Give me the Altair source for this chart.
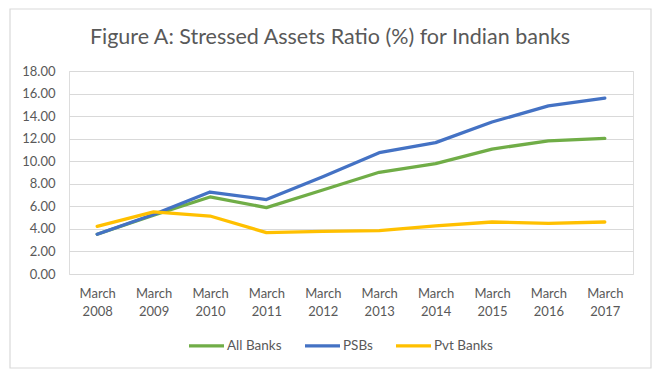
import altair as alt
import pandas as pd

years = ["March 2008", "March 2009", "March 2010", "March 2011", "March 2012",
         "March 2013", "March 2014", "March 2015", "March 2016", "March 2017"]
all_banks = [3.52, 5.22, 6.83, 5.89, 7.45, 9.02, 9.79, 11.08, 11.80, 12.03]
psbs = [3.52, 5.27, 7.27, 6.60, 8.63, 10.76, 11.65, 13.48, 14.90, 15.60]
pvt_banks = [4.23, 5.50, 5.14, 3.67, 3.78, 3.85, 4.26, 4.61, 4.49, 4.61]

series_names = ["All Banks", "PSBs", "Pvt Banks"]
series_colors = ["#70AD47", "#4472C4", "#FFC000"]

rows = []
for name, vals in zip(series_names, [all_banks, psbs, pvt_banks]):
    for y, v in zip(years, vals):
        rows.append({"year": y, "series": name, "value": v})
df = pd.DataFrame(rows)

FONT = "Lato"
TXT = "#595959"

W, H = 564, 203

lines = alt.Chart(df).mark_line(strokeWidth=3.3, strokeCap="round", strokeJoin="round").encode(
    x=alt.X("year:N", sort=years, title=None,
            scale=alt.Scale(type="point", padding=0.5),
            axis=alt.Axis(labelExpr="split(datum.label, ' ')", labelAngle=0,
                          labelFontSize=13, labelColor=TXT, labelFont=FONT,
                          labelLineHeight=18, labelPadding=13,
                          domain=False, ticks=False, grid=False)),
    y=alt.Y("value:Q", title=None,
            scale=alt.Scale(domain=[0, 18], nice=False),
            axis=alt.Axis(values=list(range(0, 19, 2)), format=".2f",
                          labelFontSize=13, labelColor=TXT, labelFont=FONT,
                          labelPadding=14, domain=False, ticks=False,
                          grid=True, gridColor="#D9D9D9", gridWidth=1.2)),
    color=alt.Color("series:N", sort=series_names,
                    scale=alt.Scale(domain=series_names, range=series_colors),
                    legend=alt.Legend(title=None, orient="none", direction="horizontal",
                                      legendX=118, legendY=255,
                                      symbolType="stroke", symbolSize=1225,
                                      symbolStrokeWidth=3.3,
                                      labelFontSize=13.5, labelColor=TXT, labelFont=FONT,
                                      labelOffset=1, columnPadding=16)),
)

border = alt.Chart(pd.DataFrame({"k": [0]})).mark_rect(
    fill=None, stroke="#D9D9D9", strokeWidth=1.2
).encode(
    x=alt.value(-59), x2=alt.value(582),
    y=alt.value(-62), y2=alt.value(297),
)

chart = alt.layer(border, lines).properties(
    width=W, height=H,
    title=alt.TitleParams("Figure A: Stressed Assets Ratio (%) for Indian banks",
                          font=FONT, fontSize=21.5, fontWeight="normal",
                          color=TXT, anchor="middle", dx=-21, offset=-40,
                          frame="group"),
    autosize=alt.AutoSizeParams(type="none"),
    padding={"left": 61, "top": 63, "right": 21, "bottom": 95},
).configure_view(stroke=None).configure(background="white")

chart.save("out.html", embed_options={"renderer": "svg", "actions": False})
